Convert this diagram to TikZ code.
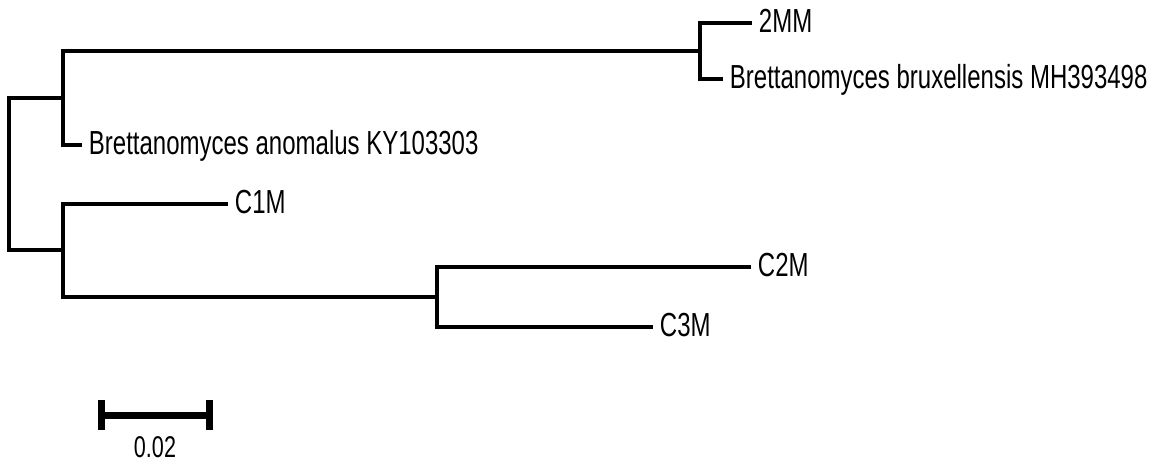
\documentclass[tikz,border=0pt]{standalone}
\usepackage{fontspec}
\setmainfont{Liberation Sans}
\newfontfamily\treefont{Liberation Sans}[FakeStretch=0.72]
\usetikzlibrary{positioning}

\begin{document}
\begin{tikzpicture}[
  x=0.75pt, y=-0.75pt,
  branch/.style={line width=2.3pt},
  leaf/.style={anchor=west, inner xsep=5pt, inner ysep=0pt,
               text height=17.9pt, text depth=3.4pt,
               font=\treefont\fontsize{25}{29}\selectfont},
  scalebar/.style={line width=5.25pt},
  sbtick/.style={line width=5.25pt},
  scalelbl/.style={inner sep=0pt, font=\treefont\fontsize{22.5}{26}\selectfont}
]
  \useasboundingbox (0,0) rectangle (1161,467);

  % internal nodes
  \coordinate (root) at (9,174);
  \coordinate (nA) at (63,98);
  \coordinate (nB) at (63,250);
  \coordinate (nD) at (700,51);
  \coordinate (nE) at (437,297);

  % taxa
  \node[leaf] (mm2)  at (752,23)  {2MM};
  \node[leaf] (brux) at (723,79)  {Brettanomyces bruxellensis MH393498};
  \node[leaf] (anom) at (82,145)  {Brettanomyces anomalus KY103303};
  \node[leaf] (c1m)  at (228,204) {C1M};
  \node[leaf] (c2m)  at (751,267) {C2M};
  \node[leaf] (c3m)  at (653,327) {C3M};

  % branches
  \draw[branch] (root) |- (nA);
  \draw[branch] (root) |- (nB);
  \draw[branch] (nA) |- (nD);
  \draw[branch] (nA) |- (anom.west);
  \draw[branch] (nD) |- (mm2.west);
  \draw[branch] (nD) |- (brux.west);
  \draw[branch] (nB) |- (c1m.west);
  \draw[branch] (nB) |- (nE);
  \draw[branch] (nE) |- (c2m.west);
  \draw[branch] (nE) |- (c3m.west);

  % scale bar
  \coordinate (sbL) at (101,415);
  \coordinate (sbR) at (209,415);
  \draw[scalebar] (sbL) -- (sbR);
  \draw[sbtick] ([yshift=11.25pt]sbL) -- ([yshift=-11.25pt]sbL);
  \draw[sbtick] ([yshift=11.25pt]sbR) -- ([yshift=-11.25pt]sbR);
  \node[scalelbl] (sblbl) at (155,447) {0.02};
\end{tikzpicture}
\end{document}
